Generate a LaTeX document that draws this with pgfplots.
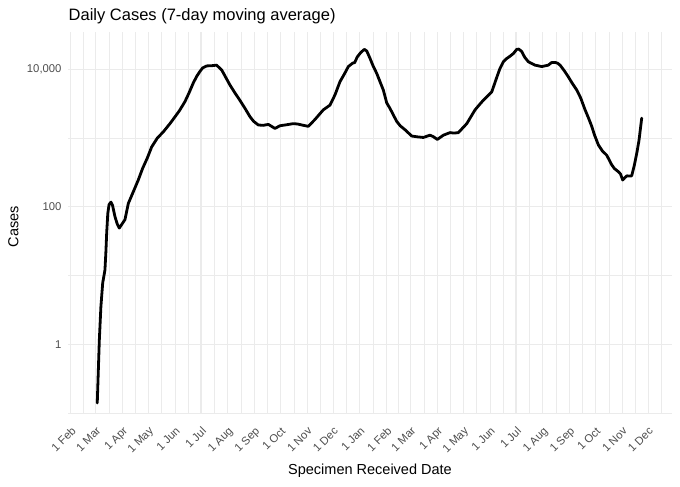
\documentclass[border=0pt]{standalone}
\usepackage{pgfplots}
\pgfplotsset{compat=1.18}
\usepackage{fontspec}
\setmainfont{Liberation Sans}
\usetikzlibrary{calc}
\definecolor{gridc}{HTML}{EBEBEB}
\definecolor{tickc}{HTML}{4D4D4D}
\begin{document}
\begin{tikzpicture}
\begin{axis}[
 name=ax,
 scale only axis, width=604bp, height=381bp,
 xmin=-3.1, xmax=696.7, ymode=log, ymin=0.1, ymax=34900,
 axis line style={draw=none},
 major tick length=0pt, minor tick length=0pt,
 xtick={0,29,60,90,121,151,182,213,243,274,304,335,366,394,425,455,486,516,547,578,608,639,669},
 xticklabels={1 Feb,1 Mar,1 Apr,1 May,1 Jun,1 Jul,1 Aug,1 Sep,1 Oct,1 Nov,1 Dec,1 Jan,1 Feb,1 Mar,1 Apr,1 May,1 Jun,1 Jul,1 Aug,1 Sep,1 Oct,1 Nov,1 Dec},
 minor xtick={14.5,44.5,75,105.5,136,166.5,197.5,228,258.5,289,319.5,350.5,380,409.5,440,470.5,501,531.5,562.5,593,623.5,654,684},
 ytick={1,100,10000}, yticklabels={1,100,{10,000}},
 minor ytick={0.1,10,1000},
 grid=both,
 major grid style={gridc, line width=1.1bp},
 minor grid style={gridc, line width=0.55bp},
 tick label style={font=\fontsize{11.3bp}{13bp}\selectfont, text=tickc},
 /pgf/number format/assume math mode=true,
 xticklabel style={yshift=-13bp, rotate=45, anchor=north east, inner sep=0pt},
 yticklabel style={anchor=east, inner sep=0pt, xshift=-6.3bp},
]
\addplot[black, line width=2.8bp, line join=round, line cap=round] coordinates {
(30.8,0.14) (33.2,1.15) (35.0,3.5) (37.1,7.8) (39.7,12) (40.8,22) (41.7,41) (43.0,80) (44.5,108) (46.7,117)
(48.5,105) (51.3,72) (54,56) (56.3,49) (59,55) (62.9,65) (66.8,112) (72.6,166) (78.3,245) (83.4,363)
(88.8,513) (93.8,741) (100.4,1000) (107.3,1230) (115,1620) (120.9,2040) (126,2500) (132.4,3390) (137,4500) (142,6310)
(146,7900) (149.8,9330) (153,10500) (157.6,11200) (164,11300) (169,11500) (175,9770) (180,7500) (184.6,5890) (190,4600)
(196,3550) (202,2700) (207.8,2040) (212,1750) (217.4,1550) (223,1530) (229,1580) (232,1500) (236.7,1380) (242.5,1510)
(250,1560) (258,1620) (263,1600) (267.7,1550) (275.3,1480) (283,1860) (288,2200) (292.7,2570) (300.5,3020) (306.3,4270)
(312,6610) (317,8500) (321.7,10960) (326.7,12300) (329,12500) (332,15100) (336,17500) (340.2,19500) (343,18500) (346.8,14450)
(350,11500) (354.6,8710) (362.2,5010) (366.2,3240) (370,2690) (377.8,1740) (382,1500) (387.4,1320) (395.1,1070) (402,1040)
(408.6,1020) (416.3,1100) (420,1050) (424.8,955) (431.8,1100) (439.5,1200) (444,1180) (449.2,1200) (458.9,1620) (468.5,2570)
(473,3000) (478.1,3550) (487.8,4680) (493.6,7590) (497,10000) (501.3,12900) (505,14300) (509,15500) (513,17000) (516.8,19500)
(519,19700) (522.6,18200) (526,15000) (530.2,12900) (538,11500) (545.8,10960) (553.4,11500) (557,12500) (561.2,12600) (564,12300)
(567,11500) (572,9500) (576.6,7760) (581,6300) (586.3,5010) (591,3800) (596,2570) (600,1950) (603.7,1480) (607,1100)
(611.4,794) (616,650) (621.1,562) (626.9,407) (630,360) (634.5,324) (637,300) (639.6,245) (642,265) (644.3,282)
(647,280) (650,282) (653,400) (655.9,603) (658.5,933) (661.6,1950)
};
\end{axis}
\node[anchor=base west, inner sep=0pt, font=\fontsize{16.5bp}{18bp}\selectfont] at ($(ax.north west)+(0.5bp,11.3bp)$) {Daily Cases (7-day moving average)};
\node[anchor=base, inner sep=0pt, font=\fontsize{14.5bp}{16bp}\selectfont] at ($(ax.south)+(0,-61bp)$) {Specimen Received Date};
\node[rotate=90, anchor=center, inner sep=0pt, font=\fontsize{14.5bp}{16bp}\selectfont] at ($(ax.west)+(-54.7bp,-4bp)$) {Cases};
\pgfresetboundingbox
\path[use as bounding box] ($(ax.south west)+(-68bp,-73bp)$) rectangle ($(ax.north east)+(8bp,32bp)$);
\end{tikzpicture}
\end{document}
